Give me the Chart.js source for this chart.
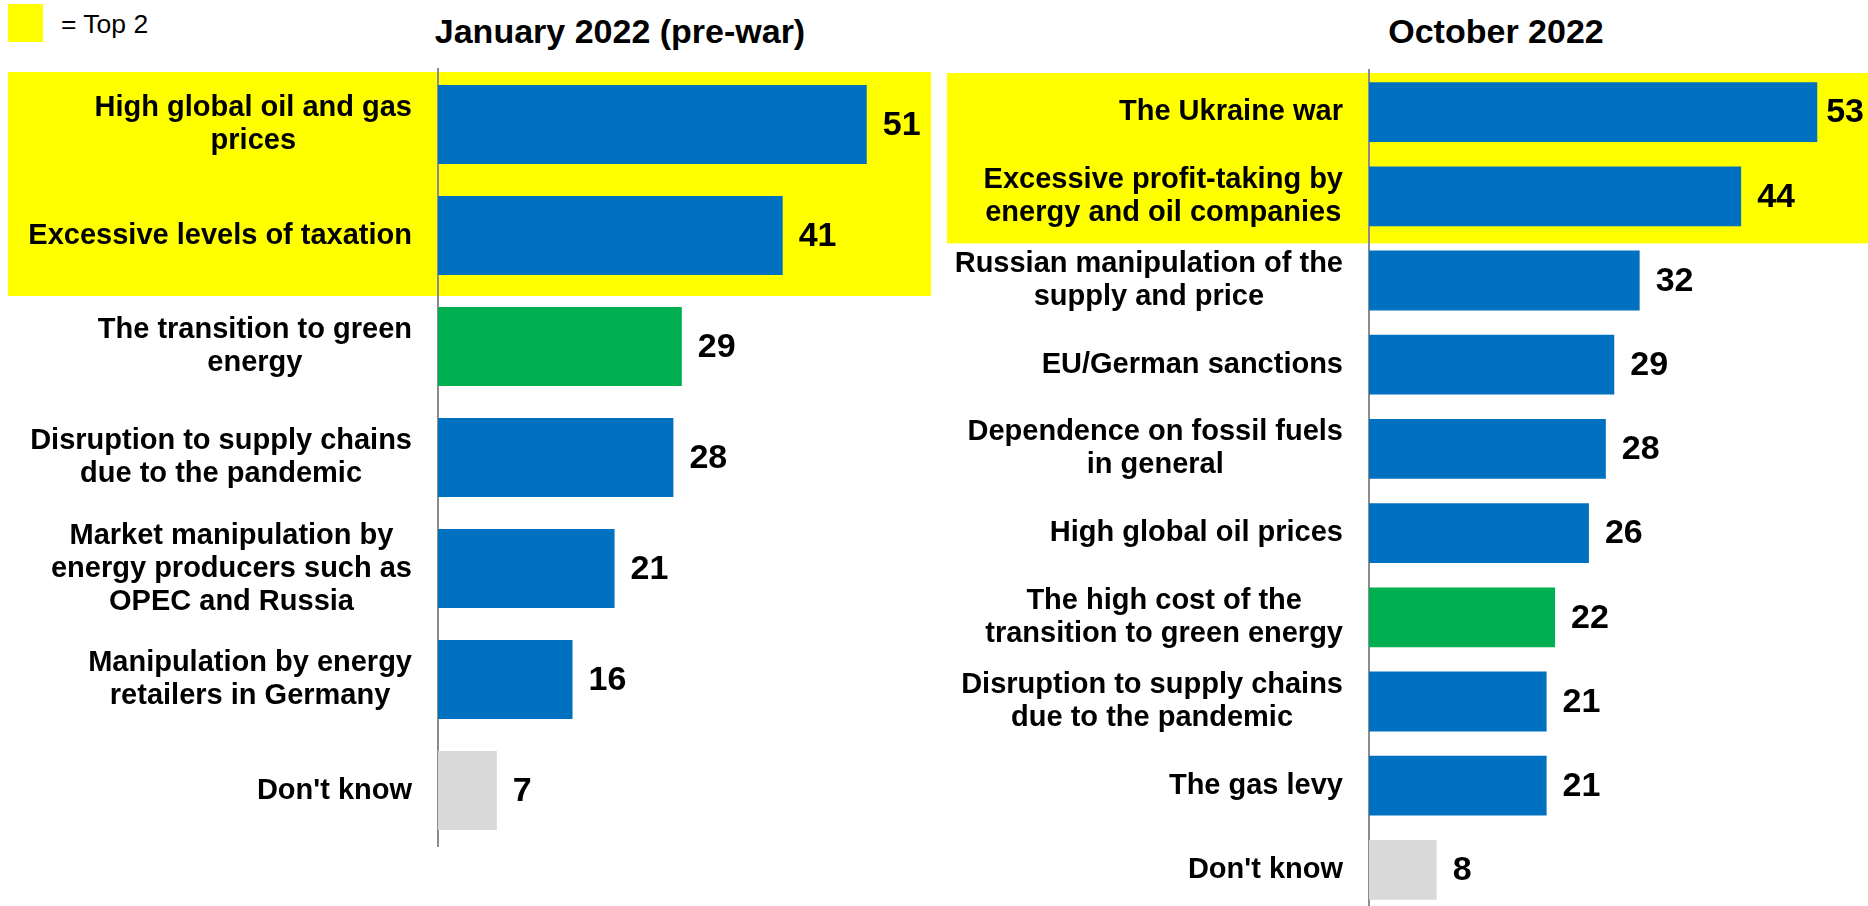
<!DOCTYPE html>
<html>
<head>
<meta charset="utf-8">
<script src="https://cdn.jsdelivr.net/npm/chart.js@4.4.1/dist/chart.umd.min.js"></script>
<style>
  html, body { margin: 0; padding: 0; background: #fff; width: 1868px; height: 906px; overflow: hidden; }
  body { position: relative; font-family: "Liberation Sans", Arial, sans-serif; color: #000; }
  .legend-box { position: absolute; left: 8px; top: 4px; width: 35px; height: 38px; background: #FFFF00; }
  .legend-text { position: absolute; left: 61px; top: 9px; font-size: 26.5px; line-height: 30px; }
  .panel-title { position: absolute; top: 11px; width: 600px; text-align: center; font-size: 34px; font-weight: bold; line-height: 40px; }
  canvas { position: absolute; top: 0; }
</style>
</head>
<body>
<div class="legend-box"></div>
<div class="legend-text">= Top 2</div>
<div class="panel-title" style="left:320px">January 2022 (pre-war)</div>
<div class="panel-title" style="left:1196px">October 2022</div>
<canvas id="janChart" width="934" height="906" style="left:0"></canvas>
<canvas id="octChart" width="934" height="920" style="left:934px"></canvas>
<script>
// Données : janvier 2022 (avant la guerre)
const janLabels = [
    ['High global oil and gas', 'prices'],
    ['Excessive levels of taxation'],
    ['The transition to green', 'energy'],
    ['Disruption to supply chains', 'due to the pandemic'],
    ['Market manipulation by', 'energy producers such as', 'OPEC and Russia'],
    ['Manipulation by energy', 'retailers in Germany'],
    ["Don't know"]
];
const janValues = [51, 41, 29, 28, 21, 16, 7];

// Données : octobre 2022
const octLabels = [
    ['The Ukraine war'],
    ['Excessive profit-taking by', 'energy and oil companies'],
    ['Russian manipulation of the', 'supply and price'],
    ['EU/German sanctions'],
    ['Dependence on fossil fuels', 'in general'],
    ['High global oil prices'],
    ['The high cost of the', 'transition to green energy'],
    ['Disruption to supply chains', 'due to the pandemic'],
    ['The gas levy'],
    ["Don't know"]
];
const octValues = [53, 44, 32, 29, 28, 26, 22, 21, 21, 8];

// Nombre de réponses surlignées en jaune (= Top 2)
const topCount = 2;

// Couleurs
const BLUE = '#0070C0';
const GREEN = '#00B050';
const GREY = '#D9D9D9';
const janColors = [BLUE, BLUE, GREEN, BLUE, BLUE, BLUE, GREY];
const octColors = [BLUE, BLUE, BLUE, BLUE, BLUE, BLUE, GREEN, BLUE, BLUE, GREY];

const FONT = '"Liberation Sans", Arial, sans-serif';

// Plugin : surlignage jaune, libellés centrés sur plusieurs lignes, valeurs
const panelPlugin = {
    id: 'panelDecor',
    beforeDraw(chart, args, opts) {
        const ctx = chart.ctx;
        const y = chart.scales.y;
        const step = y.getPixelForValue(1) - y.getPixelForValue(0);
        const top = y.getPixelForValue(0) - step / 2 + 3;
        const bottom = y.getPixelForValue(topCount - 1) + step / 2 + 5;
        ctx.save();
        ctx.fillStyle = '#FFFF00';
        ctx.fillRect(opts.hlLeft, top, opts.hlRight - opts.hlLeft, bottom - top);
        ctx.restore();
    },
    afterDatasetsDraw(chart) {
        const ctx = chart.ctx;
        const y = chart.scales.y;
        const meta = chart.getDatasetMeta(0);
        const values = chart.data.datasets[0].data;
        ctx.save();
        ctx.fillStyle = '#000';
        ctx.textBaseline = 'middle';

        // libellés des catégories
        ctx.font = 'bold 29px ' + FONT;
        ctx.textAlign = 'center';
        const rightEdge = chart.chartArea.left - 26;
        chart.data.labels.forEach((lines, i) => {
            const cy = y.getPixelForValue(i);
            const maxW = Math.max(...lines.map(l => ctx.measureText(l).width));
            const cx = rightEdge - maxW / 2;
            lines.forEach((line, k) => {
                ctx.fillText(line, cx, cy + (k - (lines.length - 1) / 2) * 33);
            });
        });

        // valeurs au bout des barres
        ctx.font = 'bold 34px ' + FONT;
        ctx.textAlign = 'left';
        meta.data.forEach((bar, i) => {
            const txt = String(values[i]);
            const w = ctx.measureText(txt).width;
            let x = bar.x + 16;
            if (x + w > chart.width - 4) x = chart.width - 4 - w;
            ctx.fillText(txt, x, bar.y + 1);
        });
        ctx.restore();
    }
};

function createPanel(id, labels, values, colors, axisLeft, padTop, padBottom, hlLeft, hlRight) {
    const ctx = document.getElementById(id).getContext('2d');
    return new Chart(ctx, {
        type: 'bar',
        data: {
            labels: labels,
            datasets: [{
                data: values,
                backgroundColor: colors,
                borderWidth: 0,
                barPercentage: 0.71,
                categoryPercentage: 1.0
            }]
        },
        options: {
            indexAxis: 'y',
            responsive: false,
            animation: false,
            layout: { padding: { top: padTop, bottom: padBottom, left: 0, right: 0 } },
            scales: {
                x: { display: false, min: 0, max: 59 },
                y: {
                    display: true,
                    ticks: { display: false },
                    grid: { display: false },
                    border: { display: true, color: '#8C8C8C', width: 2 },
                    afterFit: (scale) => { scale.width = axisLeft; }
                }
            },
            plugins: {
                legend: { display: false },
                tooltip: { enabled: false },
                panelDecor: { hlLeft: hlLeft, hlRight: hlRight }
            }
        },
        plugins: [panelPlugin]
    });
}

let janChart = createPanel('janChart', janLabels, janValues, janColors, 438, 69, 60, 8, 931);
let octChart = createPanel('octChart', octLabels, octValues, octColors, 435, 70, 8, 13, 934);
</script>
</body>
</html>
